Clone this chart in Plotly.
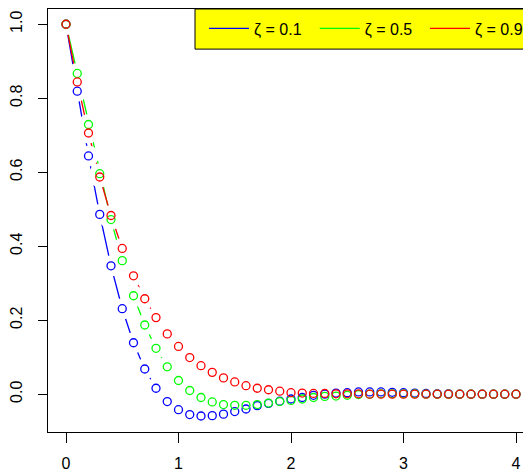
import plotly.graph_objects as go

# time grid
t = [0.0, 0.1, 0.2, 0.3, 0.4, 0.5, 0.6, 0.7, 0.8, 0.9,
     1.0, 1.1, 1.2, 1.3, 1.4, 1.5, 1.6, 1.7, 1.8, 1.9,
     2.0, 2.1, 2.2, 2.3, 2.4, 2.5, 2.6, 2.7, 2.8, 2.9,
     3.0, 3.1, 3.2, 3.3, 3.4, 3.5, 3.6, 3.7, 3.8, 3.9, 4.0]

zeta_01 = [1.000, 0.819, 0.644, 0.486, 0.347, 0.231, 0.139, 0.068, 0.016, -0.020,
           -0.042, -0.055, -0.059, -0.058, -0.054, -0.047, -0.040, -0.031, -0.025, -0.019,
           -0.013, -0.009, -0.003, 0.000, 0.003, 0.004, 0.006, 0.006, 0.006, 0.005,
           0.004, 0.003, 0.002, 0.001, 0.001, 0.000, 0.000, 0.000, 0.000, 0.000, 0.000]

zeta_05 = [1.000, 0.867, 0.729, 0.596, 0.472, 0.361, 0.266, 0.187, 0.124, 0.074,
           0.037, 0.010, -0.009, -0.021, -0.028, -0.030, -0.030, -0.028, -0.024, -0.020,
           -0.017, -0.013, -0.009, -0.006, -0.005, -0.003, -0.001, 0.000, 0.001, 0.001,
           0.001, 0.001, 0.000, 0.000, 0.000, 0.000, 0.000, 0.000, 0.000, 0.000, 0.000]

zeta_09 = [1.000, 0.844, 0.706, 0.587, 0.483, 0.394, 0.320, 0.258, 0.207, 0.163,
           0.129, 0.099, 0.077, 0.059, 0.044, 0.033, 0.023, 0.016, 0.012, 0.008,
           0.004, 0.003, 0.002, 0.002, 0.001, 0.001, 0.001, 0.000, 0.000, 0.000,
           0.000, 0.000, 0.000, 0.000, 0.000, 0.000, 0.000, 0.000, 0.000, 0.000, 0.000]

series_names = ["ζ = 0.1", "ζ = 0.5", "ζ = 0.9"]
series_values = [zeta_01, zeta_05, zeta_09]
series_colors = ["#0000FF", "#00FF00", "#FF0000"]
legend_ids = ["legend", "legend2", "legend3"]

x_ticks = [0, 1, 2, 3, 4]
y_ticks = [0.0, 0.2, 0.4, 0.6, 0.8, 1.0]

fig = go.Figure()

# connecting lines
for name, vals, col, lg in zip(series_names, series_values, series_colors, legend_ids):
    fig.add_trace(go.Scatter(x=t, y=vals, mode="lines", name=name, legend=lg,
                             line=dict(color=col, width=1.3), hoverinfo="skip"))

# white discs produce the gaps around points (type="b" look)
for vals in series_values:
    fig.add_trace(go.Scatter(x=t, y=vals, mode="markers", showlegend=False,
                             marker=dict(symbol="circle", size=21, color="white",
                                         line=dict(width=0)),
                             hoverinfo="skip"))

# open circle points
for name, vals, col in zip(series_names, series_values, series_colors):
    fig.add_trace(go.Scatter(x=t, y=vals, mode="markers", showlegend=False, name=name,
                             marker=dict(symbol="circle-open", size=8, color=col,
                                         line=dict(width=1.3, color=col))))

# The page body adds an 8px offset; layout numbers below are in page pixels.
OFF = 8
W, H = 531 - OFF, 472 - OFF
L = 48 - OFF           # left edge of plot area (page x 48)
T = 0                  # top edge of plot area (page y 8)
B = H - (433 - OFF)    # bottom edge of plot area (page y 433)
R = 0
pw = W - L - R
ph = H - T - B

def px_x(p):
    return (p - OFF - L) / pw

def px_y(p):
    return (H - B - (p - OFF)) / ph

XSCALE = 112.5   # px per unit x
YSCALE = 371.7   # px per unit y
x0 = -(66 - 48) / XSCALE
y0 = -(433 - 395) / YSCALE

legend_common = dict(bgcolor="rgba(0,0,0,0)", borderwidth=0, orientation="h",
                     font=dict(family="Liberation Sans", size=16, color="black"),
                     yanchor="middle", y=px_y(27.5), xanchor="left", itemwidth=40)

fig.update_layout(
    width=W, height=H,
    margin=dict(l=L, r=R, t=T, b=B, pad=0),
    paper_bgcolor="white", plot_bgcolor="white",
    font=dict(family="Liberation Sans", size=16, color="black"),
    showlegend=True,
    legend=dict(x=px_x(204), **legend_common),
    legend2=dict(x=px_x(314.7), **legend_common),
    legend3=dict(x=px_x(425), **legend_common),
    shapes=[dict(type="rect", xref="paper", yref="paper",
                 x0=px_x(195), x1=1.03, y0=px_y(48.3), y1=1.0,
                 fillcolor="#FFFF00", line=dict(color="black", width=1), layer="above")],
    xaxis=dict(range=[x0, x0 + pw / XSCALE], tickvals=x_ticks,
               ticktext=[str(v) for v in x_ticks],
               showline=True, linecolor="black", linewidth=1, mirror=True,
               ticks="outside", ticklen=10, tickcolor="black", tickwidth=1,
               showgrid=False, zeroline=False, ticklabelstandoff=7),
    yaxis=dict(range=[y0, y0 + ph / YSCALE], tickvals=y_ticks,
               ticktext=[f"{v:.1f}" for v in y_ticks],
               showline=True, linecolor="black", linewidth=1, mirror=False,
               ticks="outside", ticklen=9, tickcolor="black", tickwidth=1,
               tickangle=-90, showgrid=False, zeroline=False, ticklabelstandoff=10),
)

fig.write_html("out.html")
